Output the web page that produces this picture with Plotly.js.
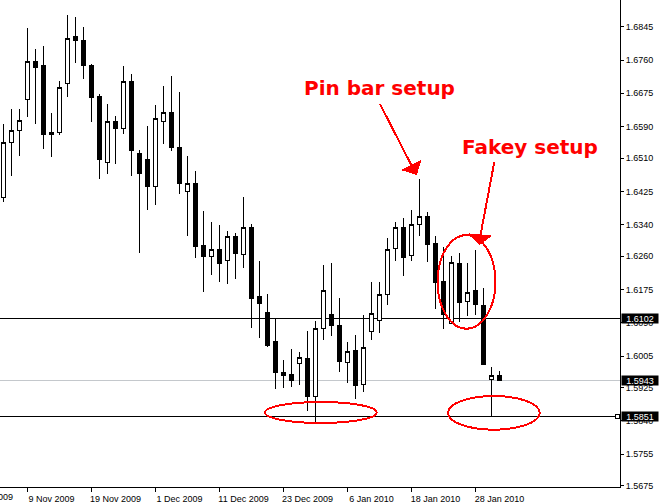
<!DOCTYPE html>
<html>
<head>
<meta charset="utf-8">
<script src="https://cdn.plot.ly/plotly-3.0.1.min.js"></script>
<style>
  html, body { margin: 0; padding: 0; background: #fff; }
  #chart { width: 661px; height: 504px; }
  /* terminal-style hard pixel edges for candles and drawn objects */
  #chart .boxlayer path, #chart .shapelayer path { shape-rendering: crispEdges; }
</style>
</head>
<body>
<div id="chart"></div>
<script>
// Daily bars, 4 Nov 2009 - 2 Feb 2010
const dates = [
  '2009-11-04','2009-11-05','2009-11-06','2009-11-09','2009-11-10','2009-11-11','2009-11-12','2009-11-13',
  '2009-11-16','2009-11-17','2009-11-18','2009-11-19','2009-11-20','2009-11-23','2009-11-24','2009-11-25',
  '2009-11-26','2009-11-27','2009-11-30','2009-12-01','2009-12-02','2009-12-03','2009-12-04','2009-12-07',
  '2009-12-08','2009-12-09','2009-12-10','2009-12-11','2009-12-14','2009-12-15','2009-12-16','2009-12-17',
  '2009-12-18','2009-12-21','2009-12-22','2009-12-23','2009-12-24','2009-12-28','2009-12-29','2009-12-30',
  '2009-12-31','2010-01-04','2010-01-05','2010-01-06','2010-01-07','2010-01-08','2010-01-11','2010-01-12',
  '2010-01-13','2010-01-14','2010-01-15','2010-01-18','2010-01-19','2010-01-20','2010-01-21','2010-01-22',
  '2010-01-25','2010-01-26','2010-01-27','2010-01-28','2010-01-29','2010-02-01','2010-02-02'
];
const open = [
  1.6410,1.6550,1.6581,1.6660,1.6755,1.6745,1.6574,1.6575,1.6701,1.6819,1.6811,1.6747,1.6666,1.6498,1.6604,1.6585,
  1.6706,1.6522,1.6505,1.6437,1.6604,1.6627,1.6538,1.6424,1.6444,1.6288,1.6259,1.6278,1.6248,1.6310,1.6265,1.6334,
  1.6156,1.6117,1.6041,1.5963,1.5957,1.5987,1.6000,1.5902,1.6076,1.6110,1.6083,1.5989,1.6020,1.5933,1.6068,1.6096,
  1.6163,1.6280,1.6333,1.6262,1.6341,1.6361,1.6291,1.6196,1.6089,1.6242,1.6144,1.6171,1.6135,1.5946,1.5956
];
const high = [
  1.6597,1.6635,1.6635,1.6842,1.6788,1.6796,1.6625,1.6706,1.6875,1.6870,1.6844,1.6750,1.6673,1.6648,1.6617,1.6745,
  1.6724,1.6531,1.6592,1.6644,1.6694,1.6719,1.6678,1.6515,1.6477,1.6375,1.6346,1.6340,1.6323,1.6319,1.6411,1.6341,
  1.6248,1.6163,1.6100,1.5995,1.6023,1.6015,1.6069,1.6094,1.6237,1.6242,1.6153,1.6040,1.6059,1.6110,1.6194,1.6194,
  1.6305,1.6346,1.6356,1.6377,1.6457,1.6372,1.6311,1.6283,1.6259,1.6268,1.6242,1.6276,1.6179,1.5978,1.5966
];
const low = [
  1.6399,1.6465,1.6516,1.6615,1.6598,1.6534,1.6513,1.6570,1.6666,1.6753,1.6712,1.6603,1.6457,1.6470,1.6496,1.6572,
  1.6465,1.6269,1.6378,1.6391,1.6547,1.6529,1.6419,1.6312,1.6254,1.6168,1.6213,1.6195,1.6190,1.6202,1.6230,1.6077,
  1.6052,1.6029,1.5920,1.5923,1.5927,1.5931,1.5866,1.5836,1.6046,1.6056,1.5965,1.5937,1.5896,1.5913,1.6047,1.6063,
  1.6134,1.6248,1.6208,1.6248,1.6311,1.6244,1.6124,1.6075,1.6087,1.6093,1.6106,1.6111,1.5984,1.5851,1.5943
];
const close = [
  1.6550,1.6581,1.6606,1.6757,1.6740,1.6570,1.6570,1.6690,1.6815,1.6809,1.6745,1.6664,1.6506,1.6604,1.6585,1.6704,
  1.6529,1.6470,1.6437,1.6610,1.6627,1.6536,1.6445,1.6446,1.6284,1.6258,1.6277,1.6241,1.6310,1.6266,1.6334,1.6151,
  1.6139,1.6032,1.5963,1.5956,1.5943,1.6002,1.5901,1.6076,1.6173,1.6082,1.5991,1.6017,1.5929,1.6027,1.6114,1.6163,
  1.6277,1.6333,1.6256,1.6341,1.6360,1.6289,1.6193,1.6112,1.6244,1.6142,1.6168,1.6136,1.5984,1.5955,1.5943
];

// Time scale labels
const tickDates = ['2009-10-28','2009-11-09','2009-11-19','2009-12-01','2009-12-11','2009-12-23','2010-01-06','2010-01-18','2010-01-28'];
const tickLabels = ['28 Oct 2009','9 Nov 2009','19 Nov 2009','1 Dec 2009','11 Dec 2009','23 Dec 2009','6 Jan 2010','18 Jan 2010','28 Jan 2010'];

// Price scale labels
const priceTicks = [1.6845,1.6760,1.6675,1.6590,1.6510,1.6425,1.6340,1.6260,1.6175,1.6090,1.6005,1.5925,1.5840,1.5755,1.5675];

// Horizontal levels: support/resistance, last bid, fakey low
const levelPrices = [1.6102, 1.5943, 1.5851];
const levelColors = ['#000000', '#c4c8cc', '#000000'];

// bar number of a date (weekdays only; dates before the first bar count back)
function barIndex(d) {
  const i = dates.indexOf(d);
  if (i >= 0) return i;
  const t = new Date(d + 'T00:00:00Z');
  const end = new Date(dates[0] + 'T00:00:00Z');
  let n = 0;
  while (t < end) {
    const w = t.getUTCDay();
    if (w !== 0 && w !== 6) n++;
    t.setUTCDate(t.getUTCDate() + 1);
  }
  return -n;
}

const xs = dates.map((d, i) => i);
const xRange = [-0.4375, 77.0625];

const candles = {
  type: 'candlestick',
  x: xs,
  open: open, high: high, low: low, close: close,
  text: dates,
  increasing: { line: { color: '#000', width: 1 }, fillcolor: '#ffffff' },
  decreasing: { line: { color: '#000', width: 1 }, fillcolor: '#000000' },
  whiskerwidth: 0,
  hoverinfo: 'skip',
  showlegend: false
};

// plot-area pixel helpers (plot area is 620 x 487)
const PW = 620, PH = 487;
const fx = p => p / PW;
const fy = p => 1 - p / PH;

const RED = '#ff0000';

const shapes = [];
levelPrices.forEach((p, k) => {
  shapes.push({
    type: 'line', xref: 'paper', yref: 'y', x0: 0, x1: 1, y0: p, y1: p,
    line: { color: levelColors[k], width: 1 }, layer: 'below'
  });
});
// small handle at the end of the lowest level line
shapes.push({
  type: 'rect', xref: 'paper', yref: 'paper',
  x0: fx(615), x1: fx(619), y0: fy(414.5), y1: fy(418.5),
  line: { color: '#000', width: 1 }, fillcolor: '#fff', layer: 'above'
});

// ellipses
[[437.5, 235, 495.5, 328.7], [265, 402, 376.7, 423], [448, 396, 539.7, 429.7]].forEach(e => {
  shapes.push({
    type: 'circle', xref: 'paper', yref: 'paper',
    x0: fx(e[0]), y0: fy(e[1]), x1: fx(e[2]), y1: fy(e[3]),
    line: { color: RED, width: 2 }, layer: 'above'
  });
});

// arrows: shaft + triangular head
function arrow(tail, base, tip, w1, w2) {
  shapes.push({
    type: 'line', xref: 'paper', yref: 'paper',
    x0: fx(tail[0]), y0: fy(tail[1]), x1: fx(base[0]), y1: fy(base[1]),
    line: { color: RED, width: 2 }, layer: 'above'
  });
  shapes.push({
    type: 'path', xref: 'paper', yref: 'paper',
    path: `M ${fx(tip[0])} ${fy(tip[1])} L ${fx(w1[0])} ${fy(w1[1])} L ${fx(w2[0])} ${fy(w2[1])} Z`,
    fillcolor: RED, line: { color: RED, width: 1 }, layer: 'above'
  });
}
arrow([380, 104], [411.5, 165.5], [416.5, 174.5], [402.5, 170], [420.5, 161]);
arrow([494.3, 162], [480.5, 235], [479.5, 244.5], [470, 234], [491, 236]);

const annotations = [
  {
    xref: 'paper', yref: 'paper', x: fx(302), y: fy(87.5), xanchor: 'left', yanchor: 'middle',
    text: '<b>Pin bar setup</b>', showarrow: false,
    font: { family: 'DejaVu Sans', size: 20, color: RED }
  },
  {
    xref: 'paper', yref: 'paper', x: fx(459.5), y: fy(147.5), xanchor: 'left', yanchor: 'middle',
    text: '<b>Fakey setup</b>', showarrow: false,
    font: { family: 'DejaVu Sans', size: 20, color: RED }
  }
];
// price tags on the right scale for the levels
levelPrices.forEach(p => {
  annotations.push({
    xref: 'paper', yref: 'y', x: 1, y: p, xanchor: 'left', yanchor: 'middle', xshift: 1,
    text: p.toFixed(4), showarrow: false, bgcolor: '#000', borderpad: 0,
    width: 36, height: 9,
    font: { family: 'Liberation Sans', size: 9, color: '#fff' }
  });
});
// date label whose tick lies left of the visible bars: only its tail shows at the edge
tickDates.forEach((d, k) => {
  const idx = barIndex(d);
  if (idx < xRange[0]) {
    annotations.push({
      xref: 'paper', yref: 'paper',
      x: (idx - xRange[0]) / (xRange[1] - xRange[0]), y: 0,
      xanchor: 'left', yanchor: 'top', xshift: -1, yshift: -4,
      text: tickLabels[k], showarrow: false, borderpad: 0,
      font: { family: 'Liberation Sans', size: 9, color: '#000' }
    });
  }
});

const layout = {
  width: 661, height: 504,
  margin: { l: 0, r: 41, t: 0, b: 17, pad: 0 },
  paper_bgcolor: '#fff', plot_bgcolor: '#fff',
  showlegend: false,
  hovermode: false,
  xaxis: {
    type: 'linear',
    range: xRange,
    showgrid: false, zeroline: false,
    showline: true, linecolor: '#000', linewidth: 1,
    ticks: 'outside', ticklen: 4, tickcolor: '#000', tickwidth: 1,
    tickmode: 'array',
    tickvals: tickDates.map(barIndex),
    ticktext: tickLabels,
    ticklabelshift: 24,
    ticklabelstandoff: -1,
    tickfont: { family: 'Liberation Sans', size: 9, color: '#000' },
    rangeslider: { visible: false },
    fixedrange: true
  },
  yaxis: {
    side: 'right',
    range: [1.56711, 1.6913],
    showgrid: false, zeroline: false,
    showline: true, linecolor: '#000', linewidth: 1,
    ticks: 'outside', ticklen: 3, tickcolor: '#000', tickwidth: 1,
    tickmode: 'array',
    tickvals: priceTicks,
    ticktext: priceTicks.map(v => v.toFixed(4)),
    tickfont: { family: 'Liberation Sans', size: 9, color: '#000' },
    fixedrange: true
  },
  shapes: shapes,
  annotations: annotations
};

Plotly.newPlot('chart', [candles], layout, { displayModeBar: false, staticPlot: true });
</script>
</body>
</html>
